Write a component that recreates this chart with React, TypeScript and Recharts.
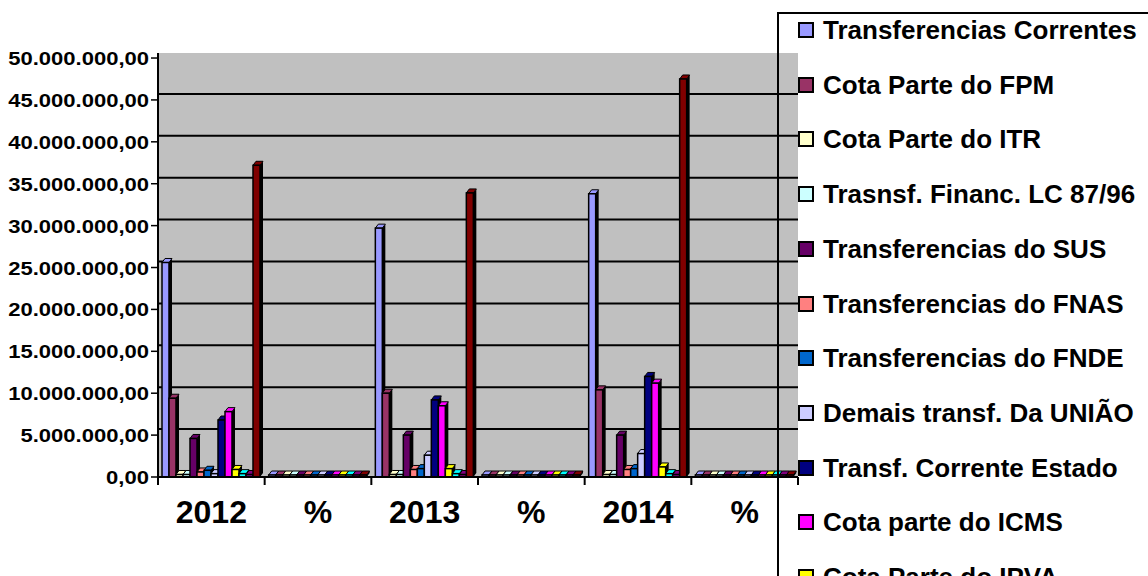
import React from "react";
import { BarChart, Bar, XAxis, YAxis, CartesianGrid } from "recharts";

const FONT = "'Liberation Sans', Arial, sans-serif";

const categories = ["2012", "%", "2013", "%", "2014", "%"];
const yTicks = [0, 5000000, 10000000, 15000000, 20000000, 25000000, 30000000, 35000000, 40000000, 45000000, 50000000];
const yMax = 50600000; // a little headroom so the grey wall shows above the top tick

// one array per series, in category order (2012, %, 2013, %, 2014, %)
const transfCorrentes = [25600000, 100, 29700000, 100, 33800000, 100];
const cotaFPM = [9400000, 36.7, 10000000, 33.7, 10400000, 30.8];
const cotaITR = [300000, 1.2, 300000, 1.0, 300000, 0.9];
const transfLC8796 = [300000, 1.2, 300000, 1.0, 300000, 0.9];
const transfSUS = [4600000, 18.0, 5000000, 16.8, 5000000, 14.8];
const transfFNAS = [600000, 2.3, 900000, 3.0, 900000, 2.7];
const transfFNDE = [800000, 3.1, 1000000, 3.4, 1000000, 3.0];
const demaisUniao = [400000, 1.6, 2600000, 8.8, 2800000, 8.3];
const correnteEstado = [6800000, 26.6, 9200000, 31.0, 12000000, 35.5];
const cotaICMS = [7800000, 30.5, 8500000, 28.6, 11200000, 33.1];
const cotaIPVA = [900000, 3.5, 1000000, 3.4, 1200000, 3.6];
const cotaIPI = [400000, 1.6, 400000, 1.3, 400000, 1.2];
const outrasEstado = [300000, 1.2, 300000, 1.0, 300000, 0.9];
const transfFUNDEB = [37200000, 145.3, 33900000, 114.1, 47500000, 140.5];

const seriesNames = [
  "Transferencias Correntes",
  "Cota Parte do FPM",
  "Cota Parte do ITR",
  "Trasnsf. Financ. LC 87/96",
  "Transferencias do SUS",
  "Transferencias do FNAS",
  "Transferencias do FNDE",
  "Demais transf. Da UNIÃO",
  "Transf. Corrente Estado",
  "Cota parte do ICMS",
  "Cota Parte do IPVA",
  "Cota Parte do IPI",
  "Outras transf. do Estado",
  "Transferencias do FUNDEB",
];
const seriesColors = [
  "#9999FF", "#993366", "#FFFFCC", "#CCFFFF", "#660066", "#FF8080", "#0066CC",
  "#CCCCFF", "#000080", "#FF00FF", "#FFFF00", "#00FFFF", "#800080", "#800000",
];
const seriesValues = [
  transfCorrentes, cotaFPM, cotaITR, transfLC8796, transfSUS, transfFNAS, transfFNDE,
  demaisUniao, correnteEstado, cotaICMS, cotaIPVA, cotaIPI, outrasEstado, transfFUNDEB,
];

const data = categories.map((cat, i) => {
  const row: Record<string, any> = { key: "c" + i, label: cat };
  seriesValues.forEach((vals, s) => {
    row["s" + s] = vals[i];
  });
  return row;
});

function formatBR(v: number) {
  return Math.round(v).toString().replace(/\B(?=(\d{3})+(?!\d))/g, ".") + ",00";
}

// column with a small top and side face, like the old 3D excel columns
const Bar3D = (props: any) => {
  const { x, y, width, height, fill } = props;
  if (x == null || y == null || !width) return null;
  const dx = 3;
  const dy = 4;
  return (
    <g>
      <polygon
        points={`${x + width},${y} ${x + width + dx},${y - dy} ${x + width + dx},${y + height - dy} ${x + width},${y + height}`}
        fill="#000"
      />
      <polygon
        points={`${x},${y} ${x + dx},${y - dy} ${x + width + dx},${y - dy} ${x + width},${y}`}
        fill={fill}
        stroke="#000"
        strokeWidth={1}
      />
      <rect x={x} y={y} width={width} height={height} fill={fill} stroke="#000" strokeWidth={1.5} />
    </g>
  );
};

const CategoryTick = (props: any) => {
  const { x, y, payload, index, visibleTicksCount } = props;
  const half = payload && payload.offset ? payload.offset : 53;
  const last = index === visibleTicksCount - 1;
  return (
    <g>
      <line x1={x - half} y1={y} x2={x - half} y2={y + 8} stroke="#000" strokeWidth={2} />
      {last && <line x1={x + half} y1={y} x2={x + half} y2={y + 8} stroke="#000" strokeWidth={2} />}
      <text x={x} y={y + 46} textAnchor="middle" fontSize={32} fontWeight="bold" fontFamily={FONT} fill="#000">
        {categories[index]}
      </text>
    </g>
  );
};

// the source labels are a bit wider than plain Arial, so stretch them sideways
const ValueTick = (props: any) => {
  const { x, y, payload } = props;
  return (
    <text
      transform={`translate(${x},${y}) scale(1.16,1)`}
      dy={7}
      textAnchor="end"
      fontSize={19}
      fontWeight="bold"
      fontFamily={FONT}
      fill="#000"
    >
      {formatBR(payload.value)}
    </text>
  );
};

// back wall gridlines sit a few px above the axis ticks
const gridCoords = (args: any) => {
  const off = args && args.offset;
  const top = off ? off.top : 53;
  const h = off ? off.height : 424;
  return yTicks.slice(1, -1).map((t) => top + h * (1 - t / yMax) - 6);
};

export default function App() {
  return (
    <div style={{ position: "absolute", left: 0, top: 0, width: 1148, height: 576, overflow: "hidden", background: "#fff" }}>
      <div style={{ position: "absolute", left: 0, top: 0 }}>
        <BarChart
          width={800}
          height={576}
          data={data}
          margin={{ top: 53, right: 2, bottom: 39, left: 0 }}
          barCategoryGap={4}
          barGap={0}
        >
          <CartesianGrid
            vertical={false}
            fill="#C0C0C0"
            fillOpacity={1}
            stroke="#000"
            strokeWidth={2}
            horizontalCoordinatesGenerator={gridCoords}
          />
          <XAxis
            dataKey="key"
            height={60}
            interval={0}
            tickLine={false}
            tickSize={0}
            tickMargin={0}
            axisLine={{ stroke: "#000", strokeWidth: 2 }}
            tick={<CategoryTick />}
          />
          <YAxis
            width={158}
            domain={[0, yMax]}
            ticks={yTicks}
            interval={0}
            tickSize={7}
            tickMargin={2}
            axisLine={{ stroke: "#000", strokeWidth: 2 }}
            tickLine={{ stroke: "#000", strokeWidth: 1.5 }}
            tick={<ValueTick />}
          />
          {seriesNames.map((name, s) => (
            <Bar
              key={name}
              dataKey={"s" + s}
              name={name}
              fill={seriesColors[s]}
              minPointSize={2}
              isAnimationActive={false}
              shape={Bar3D}
            />
          ))}
        </BarChart>
      </div>
      <div
        style={{
          position: "absolute",
          left: 777,
          top: 12,
          width: 420,
          height: 620,
          borderLeft: "2px solid #000",
          borderTop: "2px solid #000",
          boxSizing: "border-box",
          fontFamily: FONT,
        }}
      >
        {seriesNames.map((name, i) => (
          <div
            key={name}
            style={{
              position: "absolute",
              left: 19,
              top: 16 + i * 54.7 - 15,
              height: 30,
              display: "flex",
              alignItems: "center",
              whiteSpace: "nowrap",
            }}
          >
            <span
              style={{
                display: "inline-block",
                width: 16,
                height: 16,
                boxSizing: "border-box",
                border: "2px solid #000",
                background: seriesColors[i],
                marginRight: 9,
              }}
            />
            <span style={{ fontSize: 26, fontWeight: "bold", color: "#000", lineHeight: "30px" }}>{name}</span>
          </div>
        ))}
      </div>
    </div>
  );
}
